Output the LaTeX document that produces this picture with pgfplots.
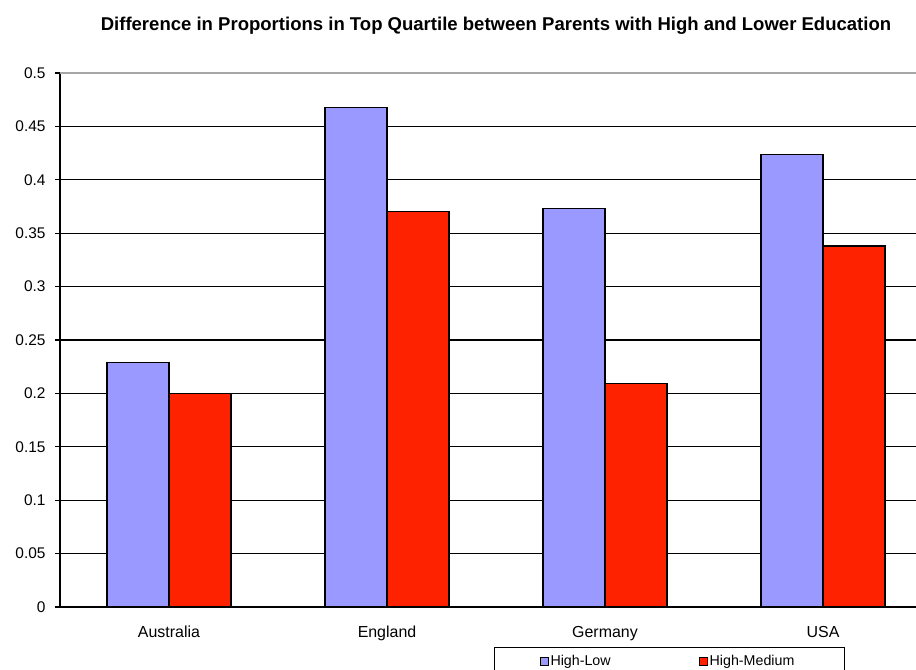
\documentclass[border=0pt]{standalone}
\usepackage{pgfplots}
\pgfplotsset{compat=1.18}
\usepackage{fontspec}
\setmainfont{Liberation Sans}
\definecolor{hlow}{HTML}{9999FF}
\definecolor{hmed}{HTML}{FF2200}
\begin{document}
\begin{tikzpicture}[x=1bp,y=1bp]
\begin{axis}[
  name=ax,
  scale only axis,
  width=872bp, height=534bp,
  xmin=-0.5, xmax=3.5,
  ymin=0, ymax=0.5,
  axis x line*=bottom,
  axis y line*=left,
  axis line style={black, line width=1.1pt, -},
  ytick={0,0.05,...,0.5},
  yticklabel style={/pgf/number format/.cd, fixed, precision=2, /tikz/.cd, font=\fontsize{15.5}{15.5}\selectfont, xshift=-6bp},
  /pgf/number format/assume math mode=true,
  ymajorgrids,
  major grid style={black, line width=1.1pt},
  tick align=outside,
  major tick length=5bp,
  tick style={black, line width=1.1pt},
  xtick={0,1,2,3},
  xticklabels={Australia,England,Germany,USA},
  xticklabel style={font=\fontsize{16}{16}\selectfont, text height=11.5bp, text depth=3.5bp, yshift=-10bp},
  x tick style={draw=none},
  extra x ticks={-0.5,0.5,1.5,2.5},
  extra x tick labels={},
  extra x tick style={grid=none, tick style={draw=black, line width=1.1pt}, major tick length=5bp},
  ybar=0pt,
  bar width=62bp,
  title={\bfseries Difference in Proportions in Top Quartile between Parents with High and Lower Education},
  title style={at={(axis description cs:0.5,1.0675)}, anchor=base, font=\fontsize{18.6}{18.6}\selectfont},
  legend style={at={(axis description cs:0.4977,-0.0749)}, anchor=north west, draw=black, line width=1.1pt,
    legend columns=2, font=\fontsize{14.3}{14.3}\selectfont, inner xsep=45bp, inner ysep=6bp,
    /tikz/every even column/.append style={column sep=86bp}},
  legend image code/.code={\draw[#1, draw=black, line width=1pt] (0bp,-4bp) rectangle (8bp,4bp);},
  legend cell align=left,
  clip=false,
]
\addplot[fill=hlow, draw=black, line width=1.1pt, bar shift=-31bp] coordinates {(0,0.229) (1,0.468) (2,0.373) (3,0.424)};
\addplot[fill=hmed, draw=black, line width=1.1pt, bar shift=31bp] coordinates {(0,0.200) (1,0.370) (2,0.209) (3,0.338)};
\draw[gray!70, line width=1.1pt] (axis cs:-0.5,0.5) -- (axis cs:3.5,0.5);
\legend{High-Low,High-Medium\hspace*{3bp}}
\end{axis}
\pgfresetboundingbox
\path[use as bounding box] ([xshift=-60bp,yshift=-63bp]ax.south west) rectangle ([xshift=856bp,yshift=607bp]ax.south west);
\end{tikzpicture}
\end{document}
